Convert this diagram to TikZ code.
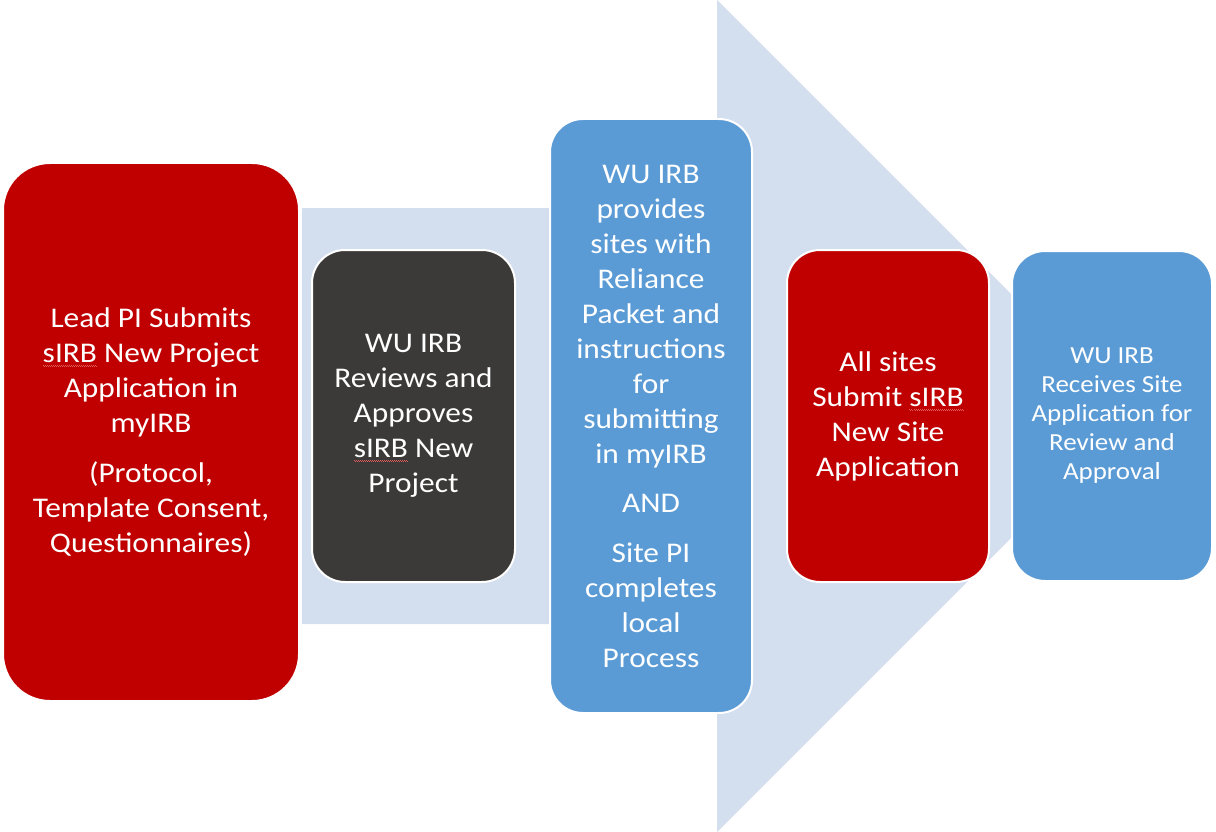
\documentclass[tikz,border=0pt]{standalone}
\usepackage{fontspec}
\setmainfont{Carlito}[FakeStretch=1.1]
\definecolor{stepred}{HTML}{C00000}
\definecolor{stepdark}{HTML}{3B3A39}
\definecolor{stepblue}{HTML}{5B9BD5}
\definecolor{flowband}{HTML}{D3DEEF}
\definecolor{spellred}{HTML}{E05A5A}
% wavy red mark under a word
\newcommand\spellmark[1]{\setbox0=\hbox{#1}\leavevmode\rlap{\hbox to\wd0{\color{spellred}\xleaders\hbox to 2pt{\vrule width 1pt height -2.6pt depth 3.4pt\vrule width 1pt height -3.4pt depth 4.2pt}\hfil}}\box0\relax}
\begin{document}
\begin{tikzpicture}[x=1pt,y=-1pt,
  stepbox/.style={draw=white, line width=2pt, text=white, align=center,
    inner sep=0pt, rounded corners=33pt},
  bigtext/.style={font=\fontsize{28.5}{35}\selectfont},
  smalltext/.style={font=\fontsize{24.5}{29}\selectfont}]
\useasboundingbox (0,0) rectangle (1216,832);
% broad background arrow
\fill[flowband] (302,208) -- (717,208) -- (717,0) -- (1133,416) -- (717,832)
  -- (717,624) -- (302,624) -- cycle;
\node[stepbox, bigtext, fill=stepred, minimum width=296pt, minimum height=538pt,
  rounded corners=47pt] (lead) at (151,432)
  {Lead PI Submits\\ \spellmark{sIRB} New Project\\ Application in\\ myIRB\\[15pt]
   (Protocol,\\ Template Consent,\\ Questionnaires)};
\node[stepbox, bigtext, fill=stepdark, minimum width=203pt, minimum height=332pt]
  (review) at (413.5,416)
  {WU IRB\\ Reviews and\\ Approves\\ \spellmark{sIRB} New\\ Project};
\node[stepbox, bigtext, fill=stepblue, minimum width=202pt, minimum height=594pt]
  (packet) at (651,416)
  {WU IRB\\ provides\\ sites with\\ Reliance\\ Packet and\\ instructions\\ for\\
   submitting\\ in myIRB\\[14pt] AND\\[15pt] Site PI\\ completes\\ local\\ Process};
\node[stepbox, bigtext, fill=stepred, minimum width=202pt, minimum height=332pt]
  (sites) at (888,416)
  {All sites\\ Submit \spellmark{sIRB}\\ New Site\\ Application};
\node[stepbox, smalltext, fill=stepblue, minimum width=200pt, minimum height=330pt]
  (receive) at (1112,416)
  {WU IRB\\ Receives Site\\ Application for\\ Review and\\ Approval};
\end{tikzpicture}
\end{document}
